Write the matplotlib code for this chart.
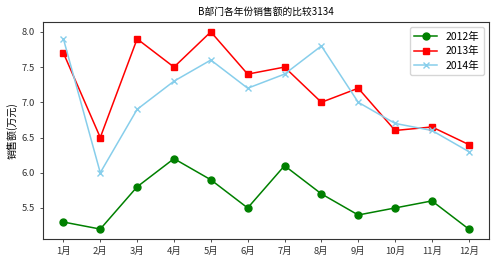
import matplotlib
matplotlib.use("Agg")
import matplotlib.pyplot as plt

plt.rcParams['font.family'] = ['Noto Sans CJK SC', 'DejaVu Sans']
plt.rcParams['axes.unicode_minus'] = False

months = ['1月', '2月', '3月', '4月', '5月', '6月', '7月', '8月', '9月', '10月', '11月', '12月']
sales_2012 = [5.3, 5.2, 5.8, 6.2, 5.9, 5.5, 6.1, 5.7, 5.4, 5.5, 5.6, 5.2]
sales_2013 = [7.7, 6.5, 7.9, 7.5, 8.0, 7.4, 7.5, 7.0, 7.2, 6.6, 6.65, 6.4]
sales_2014 = [7.9, 6.0, 6.9, 7.3, 7.6, 7.2, 7.4, 7.8, 7.0, 6.7, 6.6, 6.3]

fig = plt.figure(figsize=(4.96, 2.62), dpi=100)
ax = fig.add_axes([0.087, 0.088, 0.899, 0.828])
x = list(range(len(months)))
ax.plot(x, sales_2012, color='green', marker='o', markersize=5, linewidth=1.1, label='2012年')
ax.plot(x, sales_2013, color='red', marker='s', markersize=5, linewidth=1.1, label='2013年')
ax.plot(x, sales_2014, color='skyblue', marker='x', markersize=5, linewidth=1.1, label='2014年')
ax.set_xticks(x)
ax.set_xticklabels(months)
ax.tick_params(labelsize=6.8, length=2.5, width=0.6, colors='#333333')
for s in ax.spines.values():
    s.set_color('#333333')
    s.set_linewidth(0.8)
ax.set_ylabel('销售额(万元)', fontsize=7.2, labelpad=3)
ax.set_title('B部门各年份销售额的比较3134', fontsize=7, pad=5)
ax.legend(loc='upper right', fontsize=7.5, handlelength=2.2, labelspacing=0.4, borderpad=0.45)
fig.savefig('out.png', dpi=100)
